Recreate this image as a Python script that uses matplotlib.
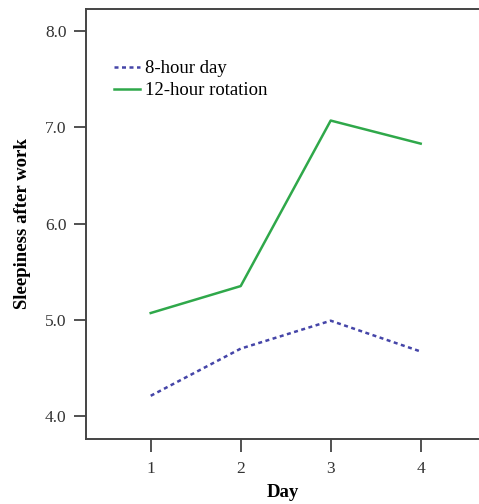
import matplotlib
matplotlib.use("Agg")
import matplotlib.pyplot as plt

days = [1, 2, 3, 4]
eight_hour = [4.21, 4.70, 4.99, 4.67]
twelve_hour = [5.07, 5.35, 7.07, 6.83]
yticks = [4.0, 5.0, 6.0, 7.0, 8.0]

plt.rcParams['font.family'] = ['Liberation Serif', 'DejaVu Serif']

fig = plt.figure(figsize=(4.79, 5.04), dpi=100)
ax = fig.add_axes([86/479, 65/504, 393/479, 430/504])

ax.plot(days, eight_hour, color='#4545a8', lw=1.8, linestyle=(0, (1.6, 1.4)),
        label='8-hour day')
ax.plot(days, twelve_hour, color='#2fa84a', lw=1.8, label='12-hour rotation')

ax.set_xlim(0.281, 4.648)
ax.set_ylim(3.761, 8.229)
ax.set_xticks(days)
ax.set_yticks(yticks)
ax.set_yticklabels([f"{v:.1f}" for v in yticks])
ax.tick_params(direction='out', length=9, width=1.2, labelsize=12.5,
               colors='#333333', pad=5)
ax.tick_params(axis='x', pad=7)
for s in ['left', 'bottom', 'top']:
    ax.spines[s].set_linewidth(1.4)
    ax.spines[s].set_color('#444444')
ax.spines['right'].set_visible(False)

ax.set_xlabel('Day', fontsize=13.5, fontweight='bold', labelpad=5)
ax.set_ylabel('Sleepiness after work', fontsize=13.5, fontweight='bold', labelpad=10)

ax.legend(loc='upper left', bbox_to_anchor=(0.071, 0.881), frameon=False,
          fontsize=13.5, handlelength=1.4, handletextpad=0.25, labelspacing=0.25,
          borderaxespad=0, borderpad=0)

fig.savefig('out.png', dpi=100)
